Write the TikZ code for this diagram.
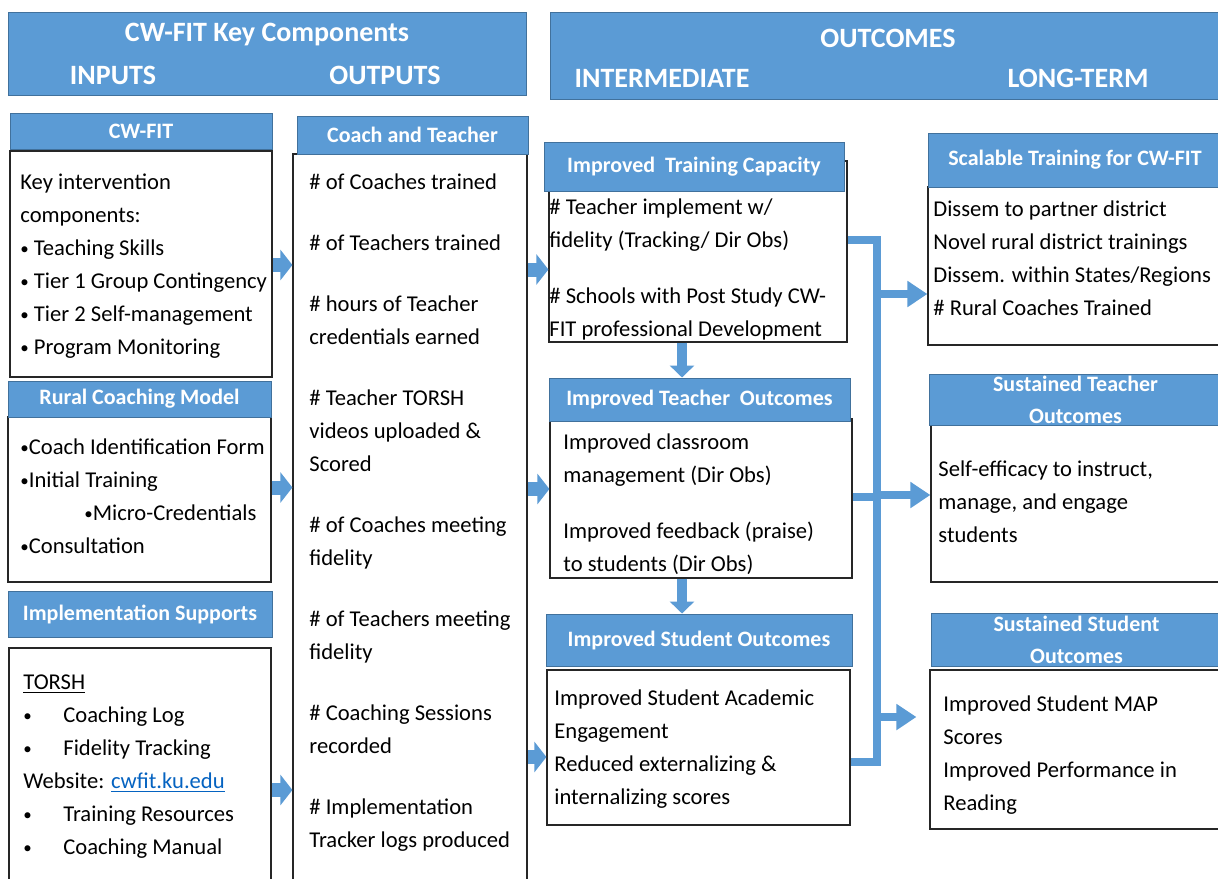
\documentclass[tikz,border=0pt]{standalone}
\usepackage{fontspec}
\usepackage{graphicx}
\setmainfont{Carlito}
\usetikzlibrary{arrows.meta,fit}
\definecolor{lmblue}{HTML}{5B9BD5}
\definecolor{lmedge}{HTML}{41719C}
\definecolor{linkblue}{HTML}{0563C1}
\newcommand\bul{\raisebox{0.12ex}{\scalebox{0.75}{•}}}
\begin{document}
\begin{tikzpicture}[x=0.5pt,y=-0.5pt,
  hdr/.style={fill=lmblue,draw=lmedge,line width=0.5pt,inner sep=0pt},
  htxt/.style={text=white,inner sep=0pt,align=center,font=\bfseries\fontsize{11}{16}\selectfont},
  body/.style={draw=black!85,line width=0.6pt,inner sep=0pt},
  txt/.style={anchor=north west,inner sep=0pt,align=left,font=\fontsize{11.3}{16.5}\selectfont},
  head/.style={text=white,inner sep=0pt,font=\bfseries\fontsize{14}{18}\selectfont},
  arr/.style={draw=lmblue,line width=7pt,-{Triangle[width=15pt,length=6pt]}},
  darr/.style={draw=lmblue,line width=5pt,-{Triangle[width=12pt,length=6pt]}},
  bus/.style={draw=lmblue,line width=4pt},
  busarr/.style={bus,-{Triangle[width=12.5pt,length=10pt]}}]
\clip (0,0) rectangle (1218,878);
\fill[white] (0,0) rectangle (1218,878);

% banners
\node[hdr,fit={(8,12) (526,95)}] (kc) {};
\node[head] (kc-t) at (267,35) {CW-FIT Key Components};
\node[head] (inp) at (113,75) {INPUTS};
\node[head] (outp) at (385,75) {OUTPUTS};
\node[hdr,fit={(550,12) (1222,99)}] (oc) {};
\node[head] (oc-t) at (888,38) {OUTCOMES};
\node[head] (inter) at (662,78) {INTERMEDIATE};
\node[head] (longt) at (1078,78) {LONG-TERM};

% inputs
\node[body,fit={(10,151) (272,377)}] (cwfit) {};
\node[hdr,fit={(10,113) (272,149)}] (cwfit-h) {};
\node[htxt] (cwfit-t) at (cwfit-h) {CW-FIT};
\node[txt] (cwfit-l) at (20,166) {\strut Key intervention\\components:\\\bul{} Teaching Skills\\
  \bul{} Tier 1 Group Contingency\\\bul{} Tier 2 Self-management\\\bul{} Program Monitoring};

\node[body,fit={(8,417) (271,582)}] (rural) {};
\node[hdr,fit={(8,381) (271,417)}] (rural-h) {};
\node[htxt] (rural-t) at (rural-h) {Rural Coaching Model};
\node[txt] (rural-l) at (20,431) {\strut\bul Coach Identification Form\\\bul Initial Training\\
  \hspace*{32pt}\bul Micro-Credentials\\\bul Consultation};

\node[body,fit={(9,648) (271,890)}] (impl) {};
\node[hdr,fit={(8,591) (272,637)}] (impl-h) {};
\node[htxt] (impl-t) at (impl-h) {Implementation Supports};
\node[txt] (impl-l) at (23,666) {\strut\underline{TORSH}\\
  \makebox[20pt][l]{\bul}Coaching Log\\
  \makebox[20pt][l]{\bul}Fidelity Tracking\\
  Website: \textcolor{linkblue}{\underline{cwfit.ku.edu}}\\
  \makebox[20pt][l]{\bul}Training Resources\\
  \makebox[20pt][l]{\bul}Coaching Manual};

% outputs
\node[body,fit={(293,154) (527,890)}] (coach) {};
\node[hdr,fit={(297,116) (528,154)}] (coach-h) {};
\node[htxt] (coach-t) at (coach-h) {Coach and Teacher};
\node[txt] (coach-l) at (309,166) {\strut\# of Coaches trained\\[14pt]
  \# of Teachers trained\\[14pt]
  \# hours of Teacher\\credentials earned\\[14pt]
  \# Teacher TORSH\\videos uploaded \&\\Scored\\[14pt]
  \# of Coaches meeting\\fidelity\\[14pt]
  \# of Teachers meeting\\fidelity\\[14pt]
  \# Coaching Sessions\\recorded\\[14pt]
  \# Implementation\\Tracker logs produced};

% intermediate outcomes
\node[body,fit={(549,161) (847,342)}] (tc) {};
\node[hdr,fit={(544,142) (844,191)}] (tc-h) {};
\node[htxt] (tc-t) at (tc-h) {Improved\ \ Training Capacity};
\node[txt] (tc-l) at (549,191) {\strut\# Teacher implement w/\\fidelity (Tracking/ Dir Obs)\\[11.5pt]
  \# Schools with Post Study CW-\\FIT professional Development};

\node[body,fit={(550,419) (852,578)}] (to) {};
\node[hdr,fit={(549,378) (850,421)}] (to-h) {};
\node[htxt] (to-t) at (to-h) {Improved Teacher\ \ Outcomes};
\node[txt] (to-l) at (563,426) {\strut Improved classroom\\management (Dir Obs)\\[11.5pt]
  Improved feedback (praise)\\to students (Dir Obs)};

\node[body,fit={(547,670) (850,825)}] (so) {};
\node[hdr,fit={(546,614) (852,666)}] (so-h) {};
\node[htxt] (so-t) at (so-h) {Improved Student Outcomes};
\node[txt] (so-l) at (554,682) {\strut Improved Student Academic\\Engagement\\
  Reduced externalizing \&\\internalizing scores};

% long-term outcomes
\node[body,fit={(928,187) (1222,345)}] (sc) {};
\node[hdr,fit={(928,133) (1222,187)}] (sc-h) {};
\node[htxt] (sc-t) at (sc-h) {Scalable Training for CW-FIT};
\node[txt] (sc-l) at (933,193) {\strut Dissem to partner district\\Novel rural district trainings\\
  Dissem. within States/Regions\\\# Rural Coaches Trained};

\node[body,fit={(931,425) (1222,582)}] (st) {};
\node[hdr,fit={(929,374) (1222,425)}] (st-h) {};
\node[htxt] (st-t) at (st-h) {Sustained Teacher\\Outcomes};
\node[txt] (st-l) at (938,453) {\strut Self-efficacy to instruct,\\manage, and engage\\students};

\node[body,fit={(930,670) (1222,829)}] (ss) {};
\node[hdr,fit={(931,613) (1222,666)}] (ss-h) {};
\node[htxt] (ss-t) at (ss-h) {Sustained Student\\Outcomes};
\node[txt] (ss-l) at (943,688) {\strut Improved Student MAP\\Scores\\
  Improved Performance in\\Reading};

% inputs -> outputs
\coordinate (a1) at ([yshift=-0.5pt]cwfit.east);
\coordinate (a2) at ([yshift=6pt]rural.east);
\coordinate (a3) at ([yshift=-10.5pt]impl.east);
\draw[arr] (a1) -- (a1 -| coach.west);
\draw[arr] (a2) -- (a2 -| coach.west);
\draw[arr] (a3) -- (a3 -| coach.west);

% outputs -> intermediate
\coordinate (b1) at ([yshift=-9pt]tc.west);
\coordinate (b2) at ([yshift=4.75pt]to.west);
\coordinate (b3) at ([yshift=-4.75pt]so.west);
\draw[arr] (b1 -| coach.east) -- (b1);
\draw[arr] (b2 -| coach.east) -- (b2);
\draw[arr] (b3 -| coach.east) -- (b3);

% down the intermediate column
\coordinate (d1) at ([xshift=-8pt]tc.south);
\coordinate (d2) at ([xshift=-9.5pt]to.south);
\draw[darr] (d1) -- (d1 |- to-h.north);
\draw[darr] (d2) -- (d2 |- so-h.north);

% collecting bus to the long-term boxes
\coordinate (bus) at (877,240);
\coordinate (c1) at ([yshift=5.75pt]tc.east);
\coordinate (c2) at ([yshift=0.75pt]to.east);
\coordinate (c3) at ([yshift=-7.25pt]so.east);
\draw[bus] (c1) -- (c1 -| bus) -- (c3 -| bus) -- (c3);
\draw[bus] (c2) -- (c2 -| bus);
\coordinate (e1) at ([yshift=-14pt]sc.west);
\coordinate (e2) at ([yshift=4.25pt]st.west);
\coordinate (e3) at ([yshift=16.25pt]ss.west);
\draw[busarr] (e1 -| bus) -- (e1);
\draw[busarr] (e2 -| bus) -- (e2);
\draw[busarr] (e3 -| bus) -- ([xshift=-6.5pt]e3);
\end{tikzpicture}
\end{document}
